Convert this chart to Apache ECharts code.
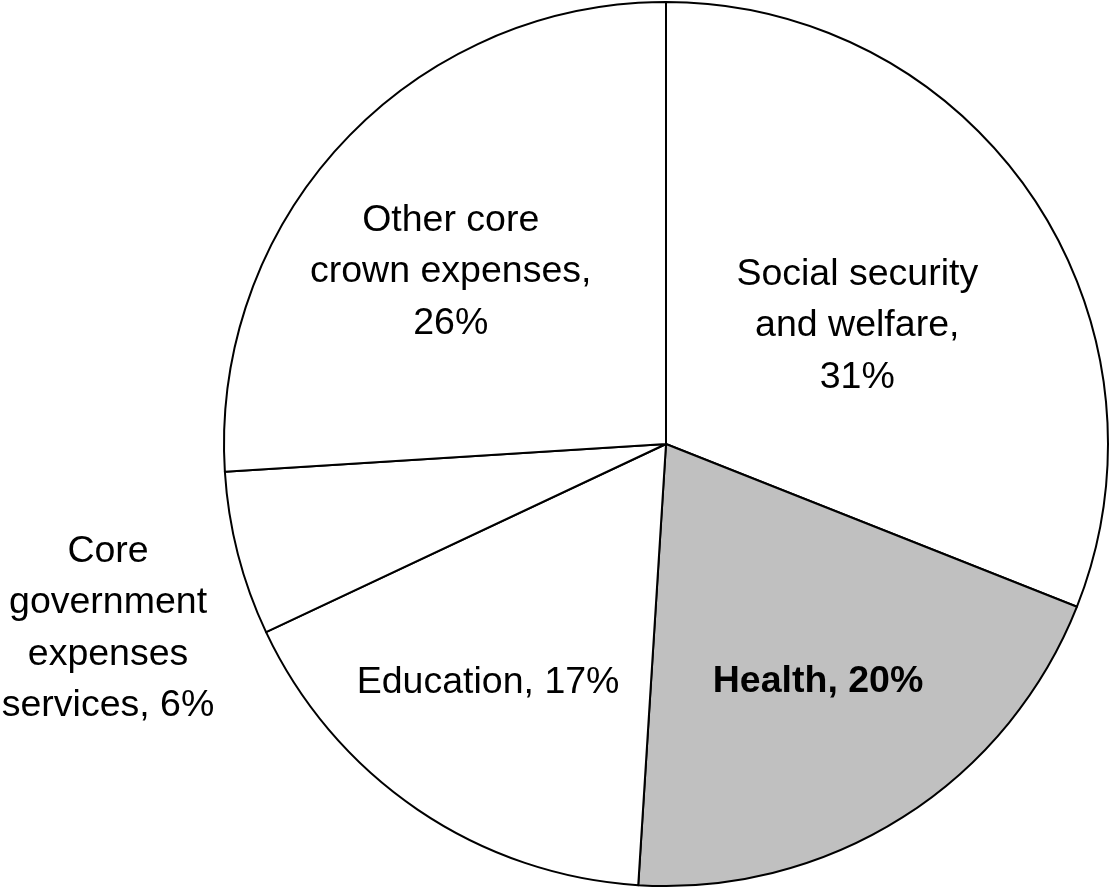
<!DOCTYPE html>
<html>
<head>
<meta charset="utf-8">
<title>Core Crown expenses</title>
<script src="https://cdn.jsdelivr.net/npm/echarts@6/dist/echarts.min.js"></script>
<style>
  html, body { margin: 0; padding: 0; background: #fff; }
  #chart { width: 1111px; height: 889px; }
</style>
</head>
<body>
<div id="chart"></div>
<script>
// Share of core Crown expenses by function (per cent)
const categories = [
  'Social security\nand welfare',
  'Health',
  'Education',
  'Core\ngovernment\nexpenses\nservices',
  'Other core\ncrown expenses'
];
const shares = [31, 20, 17, 6, 26];
// text placed between the name and its value in each label
const joiners = [',\n', ', ', ', ', ', ', ',\n'];

// label nudges from the default inside position (pixels)
const labelNudge = [
  [6, 8],
  [32, 49],
  [-52, 53],
  [-341, 129],
  [-52, -19]
];

const fills = ['#ffffff', '#c0c0c0', '#ffffff', '#ffffff', '#ffffff'];

const chart = echarts.init(document.getElementById('chart'), null, { renderer: 'canvas' });

chart.setOption({
  animation: false,
  backgroundColor: '#ffffff',
  series: [{
    type: 'pie',
    center: [666, 444],
    radius: 442,
    startAngle: 90,
    clockwise: true,
    avoidLabelOverlap: false,
    emphasis: { disabled: true },
    itemStyle: { borderColor: '#000000', borderWidth: 2 },
    label: {
      show: true,
      position: 'inside',
      color: '#000000',
      fontFamily: '"Liberation Sans", Arial, sans-serif',
      fontSize: 37.5,
      lineHeight: 51.5,
      align: 'center',
      formatter: p => categories[p.dataIndex] + joiners[p.dataIndex] + p.value + '%'
    },
    labelLine: { show: false },
    labelLayout: params => ({
      dx: labelNudge[params.dataIndex][0],
      dy: labelNudge[params.dataIndex][1]
    }),
    data: categories.map((name, i) => ({
      name: name,
      value: shares[i],
      itemStyle: { color: fills[i] },
      label: i === 1 ? { fontWeight: 'bold' } : {}
    }))
  }]
});
</script>
</body>
</html>
